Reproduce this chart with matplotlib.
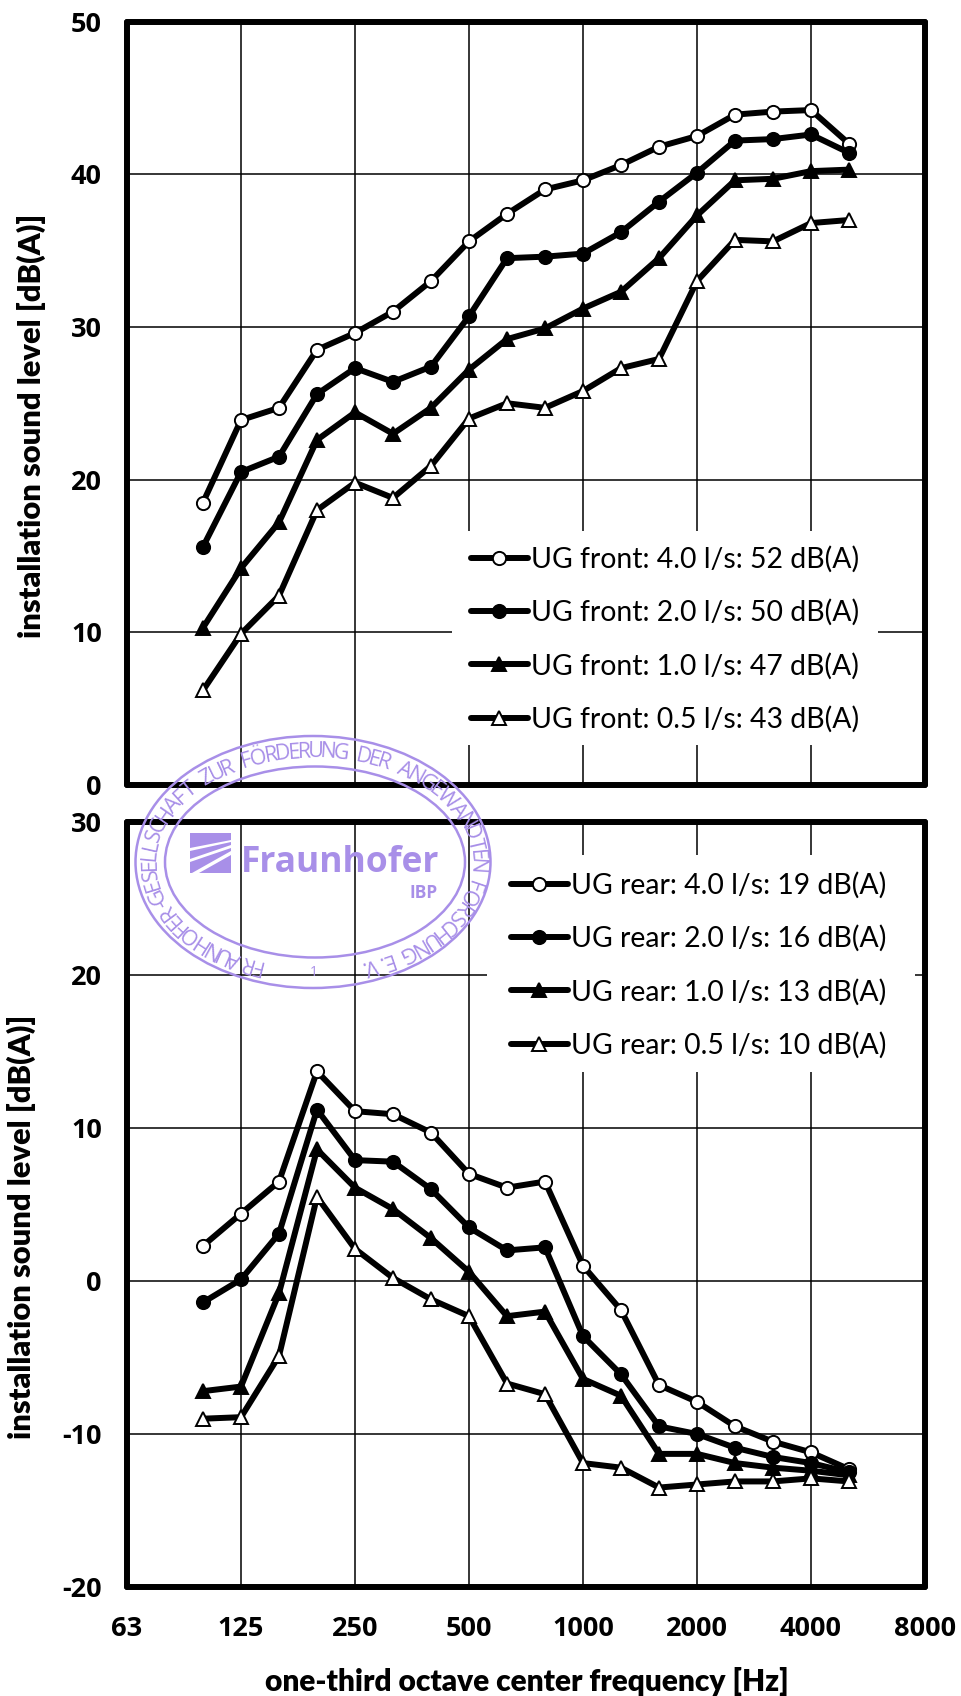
import numpy as np
import matplotlib
matplotlib.use("Agg")
import matplotlib.pyplot as plt
from matplotlib.patches import Rectangle, Ellipse, Polygon
from matplotlib.textpath import TextPath
from matplotlib.font_manager import FontProperties

W, H = 962, 1696

bands = [100, 125, 160, 200, 250, 315, 400, 500, 630, 800, 1000, 1250, 1600, 2000, 2500, 3150, 4000, 5000]
tick_labels = ["63", "125", "250", "500", "1000", "2000", "4000", "8000"]
tick_bands = [63, 125, 250, 500, 1000, 2000, 4000, 8000]

front_40 = [18.5, 23.9, 24.7, 28.5, 29.6, 31.0, 33.0, 35.6, 37.4, 39.0, 39.6, 40.6, 41.8, 42.5, 43.9, 44.1, 44.2, 42.0]
front_20 = [15.6, 20.5, 21.5, 25.6, 27.3, 26.4, 27.4, 30.7, 34.5, 34.6, 34.8, 36.2, 38.2, 40.1, 42.2, 42.3, 42.6, 41.4]
front_10 = [10.3, 14.2, 17.2, 22.6, 24.4, 23.0, 24.7, 27.2, 29.2, 29.9, 31.2, 32.3, 34.5, 37.3, 39.6, 39.7, 40.2, 40.3]
front_05 = [6.2, 9.9, 12.4, 18.0, 19.8, 18.8, 20.9, 24.0, 25.0, 24.7, 25.8, 27.3, 27.9, 33.0, 35.7, 35.6, 36.8, 37.0]

rear_40 = [2.3, 4.4, 6.5, 13.7, 11.1, 10.9, 9.7, 7.0, 6.1, 6.5, 1.0, -1.9, -6.8, -7.9, -9.5, -10.5, -11.2, -12.3]
rear_20 = [-1.4, 0.1, 3.1, 11.2, 7.9, 7.8, 6.0, 3.5, 2.0, 2.2, -3.6, -6.1, -9.5, -10.0, -10.9, -11.5, -11.9, -12.5]
rear_10 = [-7.2, -6.9, -0.8, 8.6, 6.1, 4.7, 2.8, 0.6, -2.3, -2.0, -6.4, -7.5, -11.3, -11.3, -11.9, -12.2, -12.4, -12.7]
rear_05 = [-9.0, -8.9, -4.9, 5.5, 2.1, 0.2, -1.2, -2.3, -6.7, -7.4, -11.9, -12.2, -13.5, -13.3, -13.1, -13.1, -12.9, -13.1]

front_labels = ["UG front: 4.0 l/s: 52 dB(A)", "UG front: 2.0 l/s: 50 dB(A)",
                "UG front: 1.0 l/s: 47 dB(A)", "UG front: 0.5 l/s: 43 dB(A)"]
rear_labels = ["UG rear: 4.0 l/s: 19 dB(A)", "UG rear: 2.0 l/s: 16 dB(A)",
               "UG rear: 1.0 l/s: 13 dB(A)", "UG rear: 0.5 l/s: 10 dB(A)"]

stamp_text = "FRAUNHOFER-GESELLSCHAFT ZUR FÖRDERUNG DER ANGEWANDTEN FORSCHUNG E.V."
STAMP = "#a88fe8"

# bands sit evenly on the axis, one third of an octave apart
x_pos = np.arange(len(bands))
tick_pos = np.arange(-2, 20, 3)

styles = [("o", "white"), ("o", "black"), ("^", "black"), ("^", "white")]


def ax_rect(left, top, right, bottom):
    return [left / W, 1 - bottom / H, (right - left) / W, (bottom - top) / H]


def draw_panel(ax, series, labels, ylim, yticks, gap, anchor):
    for vals, lab, (mk, fc) in zip(series, labels, styles):
        ax.plot(x_pos, vals, color="black", lw=4.3, marker=mk, ms=9.5, mfc=fc, mec="black", mew=1.4,
                solid_capstyle="round", solid_joinstyle="round", label=lab, zorder=3)
    ax.set_xlim(-2, 19)
    ax.set_ylim(*ylim)
    ax.set_xticks(tick_pos)
    ax.set_yticks(yticks)
    ax.set_yticklabels([str(v) for v in yticks])
    ax.grid(True, color="black", lw=1.1)
    ax.set_axisbelow(True)
    ax.tick_params(length=0, labelsize=19.5, pad=18)
    ax.tick_params(axis="x", pad=21)
    for lb in ax.get_yticklabels() + ax.get_xticklabels():
        lb.set_fontweight("bold")
        lb.set_family("Open Sans")
    for s in ax.spines.values():
        s.set_linewidth(4.3)
        s.set_capstyle("round")
    # white block behind the legend cuts the grid
    x0, y0, x1, y1 = gap
    ax.add_patch(Rectangle((x0 / W, 1 - y1 / H), (x1 - x0) / W, (y1 - y0) / H, transform=fig.transFigure,
                           fc="white", ec="none", zorder=1))
    leg = ax.legend(loc="upper left", bbox_to_anchor=(anchor[0] / W, 1 - anchor[1] / H),
                    bbox_transform=fig.transFigure, frameon=False, borderpad=0, borderaxespad=0,
                    handlelength=2.0, handletextpad=0.12, labelspacing=0.93,
                    prop={"family": "Lato", "size": 20.4})
    return leg


fig = plt.figure(figsize=(W / 100, H / 100), dpi=100, facecolor="white")

ax1 = fig.add_axes(ax_rect(127, 21.5, 925, 785))
draw_panel(ax1, [front_40, front_20, front_10, front_05], front_labels, (0, 50), [0, 10, 20, 30, 40, 50],
           (452, 531, 878, 745), (471, 546))
ax1.set_xticklabels([])

ax2 = fig.add_axes(ax_rect(127, 822, 925, 1587))
draw_panel(ax2, [rear_40, rear_20, rear_10, rear_05], rear_labels, (-20, 30), [-20, -10, 0, 10, 20, 30],
           (487, 855, 915, 1072), (511, 872))
ax2.set_xticklabels(tick_labels)

fig.text(31 / W, 1 - 426 / H, "installation sound level [dB(A)]", rotation=90, ha="center", va="center",
         family="Lato", fontweight="heavy", fontsize=22.2)
fig.text(21 / W, 1 - 1227 / H, "installation sound level [dB(A)]", rotation=90, ha="center", va="center",
         family="Lato", fontweight="heavy", fontsize=22.2)
fig.text(527 / W, 1 - 1682 / H, "one-third octave center frequency [Hz]", ha="center", va="center",
         family="Lato", fontweight="heavy", fontsize=21.5)

# stamp layer, in image pixels
ov = fig.add_axes([0, 0, 1, 1], facecolor="none")
ov.set_xlim(0, W)
ov.set_ylim(H, 0)
ov.axis("off")

cx, cy = 313, 862
ov.add_patch(Ellipse((cx, cy), 355, 252, fc="none", ec=STAMP, lw=1.8))
ov.add_patch(Ellipse((cx + 2, cy), 300, 191, fc="none", ec=STAMP, lw=1.8))

# letters run clockwise from the bottom, spaced by their own widths
fp = FontProperties(family="Open Sans", size=15.5)
widths = []
for c in stamp_text:
    if c == " ":
        widths.append(8.0)
    else:
        widths.append(TextPath((0, 0), c, prop=fp).get_extents().width + 2.0)
edges = np.concatenate([[0], np.cumsum(widths)])
mids = (edges[:-1] + edges[1:]) / 2 / edges[-1]

a, b = 163, 110
angle_grid = np.linspace(np.radians(19), np.radians(343), 2000)
seg = np.hypot(a * np.cos(angle_grid), b * np.sin(angle_grid))
arc = np.cumsum(seg)
arc = arc / arc[-1]
for ch, m in zip(stamp_text, mids):
    th = np.interp(m, arc, angle_grid)
    px = cx - a * np.sin(th)
    py = cy + b * np.cos(th)
    tx, ty = -a * np.cos(th), -b * np.sin(th)
    rot = np.degrees(np.arctan2(-ty, tx))
    ov.text(px, py, ch, rotation=rot, rotation_mode="anchor", ha="center", va="center",
            color=STAMP, fontproperties=fp)

ov.text(340, 863, "Fraunhofer", ha="center", va="center", color=STAMP, family="Open Sans",
        fontweight="bold", fontsize=25.5)
ov.text(424, 893, "IBP", ha="center", va="center", color=STAMP, family="Open Sans",
        fontweight="bold", fontsize=12.5)
ov.text(314, 973, "1", ha="center", va="center", color=STAMP, family="Open Sans", fontsize=10)

ov.add_patch(Rectangle((190, 833), 41, 40, fc=STAMP, ec="none"))
for pts in [[(190, 848), (231, 840), (231, 842), (190, 851)],
            [(190, 859), (231, 845), (231, 848), (190, 862)],
            [(192, 873), (231, 851), (231, 855), (199, 873)]]:
    ov.add_patch(Polygon(pts, fc="white", ec="none"))

fig.savefig("out.png", dpi=100)
